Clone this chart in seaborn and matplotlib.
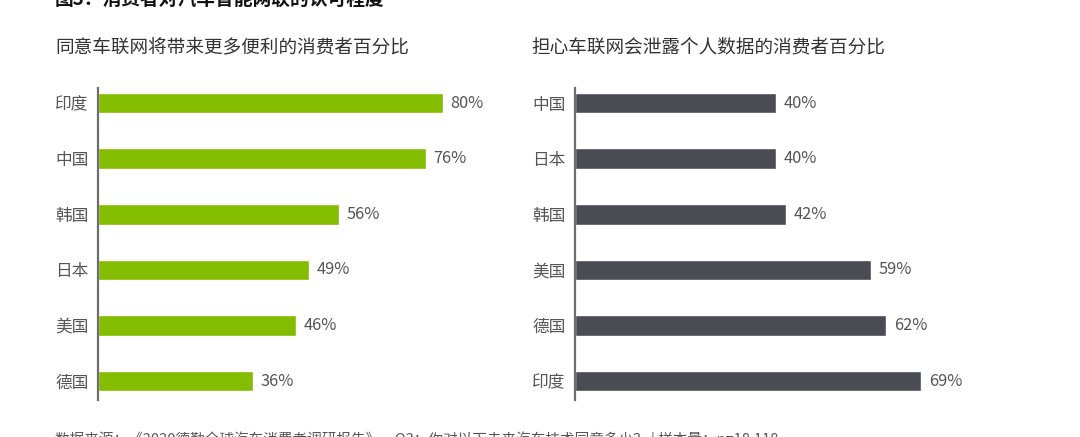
import matplotlib
matplotlib.use("Agg")
import matplotlib.pyplot as plt
import seaborn as sns
import pandas as pd

# ---- data ----
left_countries = ['印度', '中国', '韩国', '日本', '美国', '德国']
left_values = [80, 76, 56, 49, 46, 36]
right_countries = ['中国', '日本', '韩国', '美国', '德国', '印度']
right_values = [40, 40, 42, 59, 62, 69]

fig_title = '图3：消费者对汽车智能网联的认可程度'
left_title = '同意车联网将带来更多便利的消费者百分比'
right_title = '担心车联网会泄露个人数据的消费者百分比'
source_text = '数据来源：《2020德勤全球汽车消费者调研报告》，Q3：你对以下未来汽车技术同意多少？ | 样本量：n=18,118'

sns.set_theme(style='white')
plt.rcParams['font.family'] = ['Noto Sans CJK SC', 'DejaVu Sans']

W, H = 1080, 437
fig = plt.figure(figsize=(W / 100, H / 100), dpi=100)
fig.patch.set_facecolor('white')

text_color = '#555555'
spine_color = '#6e6e6e'

def make_axes(x0_px, width_px):
    top_px, bot_px = 88, 400
    return fig.add_axes([x0_px / W, (H - bot_px) / H, width_px / W, (bot_px - top_px) / H])

def draw_panel(ax, cats, vals, color):
    df = pd.DataFrame({'country': cats, 'value': vals})
    sns.barplot(data=df, x='value', y='country', orient='h', color=color,
                width=0.37, saturation=1, ax=ax)
    ax.set_xlim(0, 100)
    ax.set_ylim(5.34, -0.27)
    ax.set_xlabel('')
    ax.set_ylabel('')
    ax.set_xticks([])
    for s in ['top', 'right', 'bottom']:
        ax.spines[s].set_visible(False)
    ax.spines['left'].set_color(spine_color)
    ax.spines['left'].set_linewidth(1.6)
    ax.tick_params(axis='y', length=0, pad=7, labelsize=12, labelcolor=text_color)
    for cont in ax.containers:
        ax.bar_label(cont, labels=[f'{v}%' for v in vals], padding=5.5,
                     fontsize=11.8, color=text_color)
    ax.set_facecolor('none')

ax1 = make_axes(98, 431)
draw_panel(ax1, left_countries, left_values, '#84BD00')
ax2 = make_axes(575, 502)
draw_panel(ax2, right_countries, right_values, '#4B4C53')

fig.text(55 / W, (H - 47) / H, left_title, fontsize=13.4, color='#333333', va='center', ha='left')
fig.text(531 / W, (H - 47) / H, right_title, fontsize=13.4, color='#333333', va='center', ha='left')
fig.text(55 / W, (H + 1) / H, fig_title, fontsize=13.5, fontweight='bold', color='#111111',
         va='center', ha='left')
fig.text(55 / W, (H - 440) / H, source_text, fontsize=10.5, color='#555555', va='center', ha='left')

fig.savefig('out.png', dpi=100, facecolor='white')
